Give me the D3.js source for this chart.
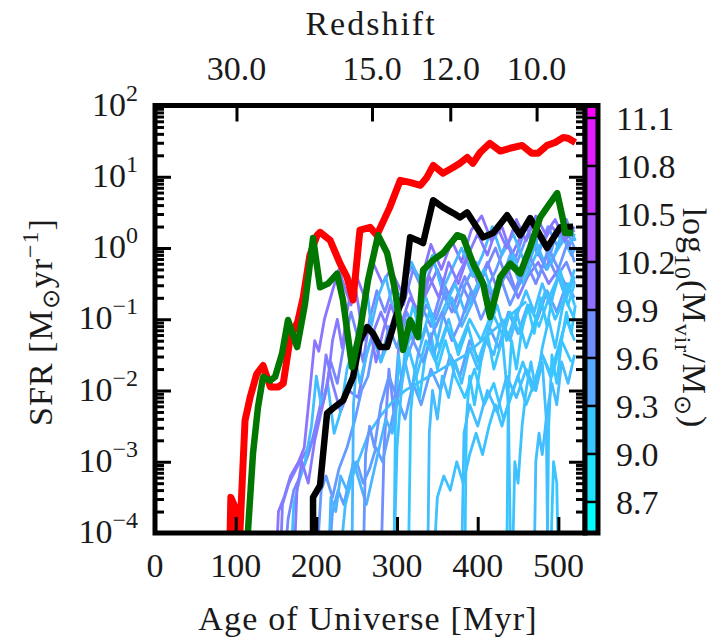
<!DOCTYPE html>
<html><head><meta charset="utf-8">
<script src="https://cdn.jsdelivr.net/npm/d3@7"></script>
<style>
body{margin:0;background:#fff}
text{font-family:"Liberation Serif","Times New Roman",serif;fill:#1a1a1a}
</style>
</head><body>
<svg id="chart" width="726" height="641"></svg>
<script>
// ---------------- data ----------------
const xTickValues = [0, 100, 200, 300, 400, 500];
const yTickExponents = [-4, -3, -2, -1, 0, 1, 2];
const redshiftLabels = ["30.0", "15.0", "12.0", "10.0"];
const redshiftAges = [101, 269, 366, 473];          // Myr at which those redshifts fall
const massBoundaries = [8.7, 9.0, 9.3, 9.6, 9.9, 10.2, 10.5, 10.8, 11.1];
const massRange = [8.506, 11.178];

// [age Myr, log10 SFR]
const redSeries = [[92,-4.6],[94,-3.5],[98.5,-3.62],[102,-4.6],[105.4,-3.96],[111.6,-2.42],[117.8,-2.1],[126,-1.77],[134,-1.65],[143,-1.95],[153,-1.95],[159,-1.9],[167.4,-1.27],[177,-1.03],[183.6,-0.7],[192,-0.1],[201,0.18],[204.6,0.22],[217,0.11],[229.4,-0.22],[238,-0.41],[245.5,-0.73],[254,0.25],[266.6,0.29],[275,0.18],[291,0.57],[304,0.95],[316,0.92],[329,0.88],[337,0.99],[345,1.16],[357,1.05],[369.5,1.13],[378,1.19],[387,1.27],[394,1.19],[403,1.34],[415,1.47],[428,1.36],[440,1.4],[455,1.44],[467,1.33],[475,1.33],[486,1.44],[496,1.48],[506,1.55],[512,1.54],[521,1.48]];
const greenSeries = [[113,-4.6],[115.3,-3.96],[121.5,-2.88],[127.7,-2.23],[133.9,-1.81],[142.6,-1.86],[148.8,-1.81],[157.5,-1.48],[164.9,-1.01],[176.1,-1.39],[186,-0.78],[195.9,0.14],[204.6,-0.55],[214.5,-0.5],[225.7,-0.36],[233,-0.73],[244.3,-1.67],[254.2,-1.15],[264.1,-0.45],[276.5,0.18],[287.7,-0.07],[297.6,-0.59],[307.5,-1.43],[316.2,-1.01],[326.1,-1.25],[332.3,-0.31],[344.7,-0.17],[357.1,-0.07],[374.5,0.18],[381.9,0.15],[394.3,-0.22],[406.7,-0.5],[415.4,-0.97],[427.8,-0.41],[440.2,-0.22],[452.6,-0.36],[465,0.01],[477.4,0.43],[486,0.57],[498.5,0.77],[505.9,0.39],[508.4,0.21],[518.3,0.21]];
const blackSeries = [[195.9,-4.6],[195.9,-3.5],[204.6,-3.33],[213.3,-2.32],[220.7,-2.25],[233.1,-2.14],[245.5,-1.81],[254.2,-1.29],[262.9,-1.11],[270.3,-1.2],[279,-1.39],[287.7,-1.39],[300,-0.92],[307.5,-0.69],[316.2,0.15],[324.9,0.11],[332.3,0.07],[344.7,0.67],[357.1,0.57],[369.5,0.49],[378.2,0.43],[386.9,0.5],[406.7,0.15],[419.1,0.21],[436.5,0.46],[452.6,0.18],[465,0.42],[473.6,0.25],[486,0.0],[502.2,0.29],[518.3,0.3]];

// log10 halo mass of each thin track
const thinMasses = [9.95, 9.85, 9.75, 9.7, 9.55, 9.5, 9.2, 9.25, 9.2, 9.15, 9.1, 9.1, 9.15, 9.1, 9.15, 9.1, 9.1, 9.3, 9.9, 9.6, 9.2, 9.2, 9.15, 9.2];
const thinSeries = [
 [[150,-4.5],[153,-3.7],[160,-3.5],[168,-3.2],[178,-3.0],[185,-2.8],[192,-2.0],[198,-1.3],[203,-1.45],[210,-1.0],[220,-0.6],[228,-0.3],[235,-0.55],[243,-0.8],[250,-0.4],[260,-0.7],[270,-0.2],[282,-0.5],[292,-0.3],[305,-0.6],[318,-0.25],[330,-0.45],[342,0.05],[355,-0.3],[368,0.1],[380,-0.2],[392,0.25],[405,0.45],[417,0.1],[430,0.3],[442,-0.1],[455,0.2],[468,0.35],[480,0.05],[492,0.3],[505,0.1],[520,0.25]],
 [[155,-4.5],[158,-3.6],[166,-3.3],[175,-3.1],[185,-2.9],[195,-2.7],[205,-2.2],[212,-1.5],[220,-1.9],[230,-2.3],[240,-2.0],[252,-2.1],[262,-1.5],[270,-1.2],[280,-0.9],[290,-1.2],[300,-0.8],[312,-0.5],[325,-0.9],[338,-0.6],[350,-0.3],[362,-0.7],[375,-0.4],[388,-0.1],[400,-0.5],[412,-0.2],[425,-0.6],[438,-0.3],[450,-0.7],[462,-0.4],[475,-0.2],[488,-0.5],[500,-0.3],[512,-0.6],[520,-0.4]],
 [[160,-4.5],[165,-3.8],[172,-3.4],[180,-3.2],[190,-2.9],[200,-2.5],[210,-2.1],[218,-1.6],[226,-1.9],[235,-1.3],[243,-0.9],[250,-1.2],[258,-1.6],[266,-1.0],[275,-0.6],[285,-0.9],[296,-0.5],[308,-0.8],[320,-0.3],[332,-0.6],[345,-0.2],[358,-0.5],[370,-0.8],[384,-0.4],[396,-0.7],[410,-0.3],[422,0.0],[435,-0.4],[448,-0.1],[460,0.3],[472,0.0],[485,-0.3],[497,0.2],[510,0.4],[520,0.1]],
 [[280,-4.5],[284,-2.8],[290,-1.7],[296,-2.3],[302,-1.4],[310,-1.0],[320,-1.3],[330,-0.8],[342,-1.1],[355,-0.6],[368,-0.9],[380,-0.5],[392,-0.8],[405,-0.4],[418,-0.7],[432,-0.3],[446,-0.6],[460,-0.2],[472,-0.5],[486,-0.1],[498,-0.4],[510,-0.2],[520,-0.5]],
 [[200,-4.5],[206,-3.4],[212,-3.2],[220,-3.5],[228,-3.1],[238,-2.8],[248,-2.4],[256,-2.0],[264,-1.8],[272,-1.3],[280,-1.6],[290,-1.1],[300,-1.4],[312,-0.9],[324,-1.2],[336,-0.8],[348,-1.0],[360,-0.6],[372,-0.9],[385,-0.5],[398,-0.2],[410,-0.6],[423,-0.3],[436,0.1],[449,-0.2],[462,0.2],[475,-0.1],[487,0.3],[500,0.0],[512,0.2],[520,0.0]],
 [[215,-4.5],[220,-3.7],[227,-3.4],[234,-3.6],[242,-3.2],[250,-3.0],[258,-3.3],[266,-3.1],[274,-2.8],[282,-3.0],[290,-2.6],[300,-2.1],[310,-2.4],[320,-1.9],[330,-2.2],[342,-1.7],[354,-2.0],[366,-1.5],[378,-1.8],[390,-1.3],[402,-1.6],[414,-1.1],[426,-1.4],[438,-0.9],[450,-1.2],[462,-0.8],[474,-1.0],[486,-0.6],[498,-0.9],[510,-0.5],[520,-0.7]],
 [[168,-4.5],[172,-3.6],[178,-3.3],[186,-3.0],[194,-2.5],[200,-1.8],[206,-2.2],[214,-1.9],[222,-2.6],[230,-2.3],[238,-1.7],[246,-1.4],[254,-1.9],[262,-1.5],[270,-1.2],[280,-1.6],[290,-1.3],[300,-1.0],[312,-1.4],[324,-1.0],[336,-0.7],[348,-1.1],[360,-0.8],[372,-0.5],[384,-0.9],[396,-0.6],[408,-0.3],[420,-0.7],[432,-0.4],[444,-0.1],[456,-0.5],[468,-0.2],[480,0.1],[492,-0.2],[504,0.2],[516,-0.1],[521,0.0]],
 [[244,-4.5],[246,-2.2],[250,-1.6],[256,-0.9],[262,-0.5],[268,-1.1],[276,-0.7],[286,-0.4],[296,-0.9],[306,-0.6],[318,-0.2],[330,-0.5],[344,-0.1],[356,-0.6],[368,-0.3],[380,0.0],[394,-0.4],[406,-0.1],[418,0.3],[430,-0.1],[444,0.2],[458,-0.2],[472,0.1],[486,-0.3],[500,0.0],[514,0.3],[521,0.1]],
 [[228,-4.5],[236,-3.6],[245,-3.2],[255,-2.9],[265,-2.6],[280,-2.35],[295,-2.15],[310,-2.0],[325,-1.9],[340,-1.8],[355,-1.7],[370,-1.6],[385,-1.5],[400,-1.35],[415,-1.2],[430,-1.05],[445,-0.9],[460,-0.75]],
 [[296,-4.5],[298,-2.5],[302,-1.5],[306,-1.9],[312,-1.2],[320,-0.8],[330,-1.3],[340,-0.9],[352,-1.4],[364,-1.0],[376,-1.5],[388,-1.1],[400,-1.6],[412,-1.2],[424,-0.8],[436,-1.3],[448,-0.9],[460,-1.4],[472,-1.0],[484,-0.6],[496,-1.0],[508,-0.7],[520,-1.0]],
 [[314,-4.5],[317,-2.3],[322,-1.7],[328,-2.1],[334,-1.6],[342,-1.2],[350,-1.7],[360,-1.3],[372,-1.8],[384,-2.1],[396,-1.7],[408,-2.2],[420,-1.9],[432,-2.4],[444,-2.0],[456,-1.6],[468,-2.0],[480,-1.5],[492,-1.8],[504,-1.3],[516,-1.6]],
 [[384,-4.5],[386,-2.4],[390,-1.8],[396,-2.2],[404,-1.6],[412,-1.2],[420,-1.7],[430,-1.3],[440,-0.9],[452,-1.2],[464,-0.8],[476,-1.1],[488,-0.7],[500,-0.4],[512,-0.8],[520,-0.5]],
 [[345,-4.5],[350,-3.5],[358,-3.2],[366,-3.4],[374,-3.0],[382,-3.3],[390,-2.9],[398,-2.6],[406,-2.9],[414,-2.5],[422,-2.2],[430,-2.5],[440,-2.1],[450,-1.8],[460,-2.2],[470,-1.9],[480,-1.5],[490,-1.8],[500,-1.4],[510,-1.0],[520,-1.3]],
 [[436,-4.5],[438,-2.0],[442,-1.3],[448,-1.7],[454,-1.2],[462,-0.8],[470,-1.2],[478,-0.7],[486,-1.1],[494,-0.6],[502,-0.3],[510,-0.7],[520,-0.4]],
 [[443,-4.5],[446,-3.0],[450,-3.3],[455,-2.5],[460,-2.0],[466,-1.6],[472,-2.0],[480,-1.4],[488,-1.0],[496,-1.4],[504,-0.9],[512,-0.5],[520,-0.8]],
 [[486,-4.5],[488,-2.5],[492,-1.5],[498,-1.9],[504,-1.3],[510,-0.9],[516,-1.2],[521,-0.8]],
 [[490,-4.5],[494,-3.0],[498,-3.3],[500,-4.5]],
 [[215,-4.5],[218,-3.5],[224,-3.7],[230,-3.2],[238,-3.4],[246,-3.0],[254,-3.3],[262,-3.6],[270,-3.2],[278,-2.8],[286,-2.4],[294,-2.6],[302,-2.0],[310,-1.6],[318,-2.0],[326,-1.5],[336,-1.1],[346,-1.5],[356,-1.0],[368,-0.7],[380,-1.1],[392,-0.8],[404,-0.4],[416,-0.8],[428,-0.5],[440,-0.1],[452,-0.5],[464,-0.2],[476,0.2],[488,-0.1],[500,0.3],[512,0.0],[520,0.2]],
 [[172,-4.5],[176,-3.4],[182,-3.0],[190,-3.3],[198,-2.7],[206,-2.3],[214,-1.9],[220,-1.3],[226,-1.0],[232,-1.4],[238,-0.9],[246,-0.4],[252,-0.8],[258,-1.3],[266,-1.1],[274,-1.6],[282,-1.2],[292,-0.8],[304,-1.1],[316,-0.7],[328,-0.9],[340,-0.4],[352,-0.7],[364,-0.2],[376,-0.5],[388,-0.1],[400,0.2],[412,-0.1],[424,0.3],[436,0.0],[448,0.4],[460,0.1],[472,0.45],[484,0.2],[496,0.4],[508,0.1],[520,0.3]],
 [[258,-4.5],[261,-2.9],[266,-2.5],[272,-2.8],[280,-2.2],[290,-1.8],[300,-2.1],[310,-1.6],[320,-1.3],[332,-1.6],[344,-1.2],[356,-0.9],[368,-1.3],[380,-1.0],[392,-0.6],[404,-1.0],[416,-0.7],[428,-0.4],[440,-0.8],[452,-0.5],[464,-0.1],[476,-0.4],[488,0.0],[500,-0.3],[512,0.1],[520,-0.2]],
 [[338,-4.5],[340,-2.6],[344,-2.0],[350,-2.4],[356,-1.8],[364,-2.1],[372,-1.6],[380,-1.9],[390,-1.4],[400,-1.7],[410,-1.3],[420,-1.5],[430,-1.0],[440,-1.3],[450,-0.9],[460,-0.6],[470,-0.9],[480,-0.5],[490,-0.8],[500,-0.4],[510,-0.7],[520,-0.3]],
 [[470,-4.5],[472,-3.0],[476,-2.6],[480,-2.9],[486,-2.3],[492,-1.9],[498,-2.2],[504,-1.6],[512,-1.9],[520,-1.5]],
 [[296,-4.5],[300,-2.8],[306,-1.9],[314,-1.4],[324,-1.8],[336,-1.3],[348,-1.6],[362,-1.1],[376,-1.4],[390,-1.0],[404,-1.3],[418,-0.9],[430,-1.2],[438,-2.2],[441,-4.5]],
 [[380,-4.5],[383,-2.6],[390,-2.2],[400,-2.5],[412,-2.0],[424,-2.3],[436,-1.8],[448,-2.1],[460,-1.7],[472,-2.0],[480,-1.6],[485,-2.4],[487,-4.5]]
];

// ---------------- drawing ----------------
const svg = d3.select("#chart");
const L = 155, R = 585, T = 105.5, B = 533;
const x = d3.scaleLinear().domain([0, 533]).range([L, R]);
const y = d3.scaleLog().domain([1e-4, 1e2]).range([B, T]);
const cb = d3.scaleLinear().domain(massRange).range([B, T]);
const cool = d3.interpolateRgb("#00ffff", "#ff00ff");
const massColor = m => cool((m - massRange[0]) / (massRange[1] - massRange[0]));

svg.append("defs").append("clipPath").attr("id", "clip")
  .append("rect").attr("x", L).attr("y", T).attr("width", R - L).attr("height", B - T);

const line = d3.line().x(d => x(d[0])).y(d => y(Math.pow(10, d[1])));
const plot = svg.append("g").attr("clip-path", "url(#clip)");

thinSeries.forEach((s, i) => {
  plot.append("path").attr("d", line(s)).attr("fill", "none")
    .attr("stroke", massColor(thinMasses[i])).attr("stroke-width", 2.8)
    .attr("stroke-linejoin", "round");
});
[[redSeries, "#ff0000", 7], [blackSeries, "#000000", 6.5], [greenSeries, "#007700", 6.5]].forEach(([s, c, w]) => {
  plot.append("path").attr("d", line(s)).attr("fill", "none")
    .attr("stroke", c).attr("stroke-width", w).attr("stroke-linejoin", "round");
});

// ticks
const majors = yTickExponents.map(e => Math.pow(10, e));
const minors = [];
for (let e = -4; e < 2; e++) for (let k = 2; k <= 9; k++) minors.push(k * Math.pow(10, e));
function styleAxis(g) {
  g.select(".domain").remove();
  g.selectAll("line").attr("stroke", "#000").attr("stroke-width", 3);
  g.selectAll("text").remove();
}
svg.append("g").attr("transform", `translate(${L},0)`).call(d3.axisLeft(y).tickValues(majors).tickSize(-16)).call(styleAxis);
svg.append("g").attr("transform", `translate(${L},0)`).call(d3.axisLeft(y).tickValues(minors).tickSize(-9)).call(styleAxis);
svg.append("g").attr("transform", `translate(${R},0)`).call(d3.axisRight(y).tickValues(majors).tickSize(-16)).call(styleAxis);
svg.append("g").attr("transform", `translate(${R},0)`).call(d3.axisRight(y).tickValues(minors).tickSize(-9)).call(styleAxis);
svg.append("g").attr("transform", `translate(0,${B})`).call(d3.axisBottom(x).tickValues(xTickValues.slice(1)).tickSize(-16)).call(styleAxis);
svg.append("g").attr("transform", `translate(0,${T})`).call(d3.axisTop(x).tickValues(redshiftAges).tickSize(-16)).call(styleAxis);

// frame
svg.append("rect").attr("x", L).attr("y", T).attr("width", R - L).attr("height", B - T)
  .attr("fill", "none").attr("stroke", "#000").attr("stroke-width", 5);

// colorbar
const cbL = 585, cbR = 598;
const edges = [massRange[0], ...massBoundaries, massRange[1]];
for (let i = 0; i < edges.length - 1; i++) {
  svg.append("rect").attr("x", cbL).attr("width", cbR - cbL)
    .attr("y", cb(edges[i + 1])).attr("height", cb(edges[i]) - cb(edges[i + 1]))
    .attr("fill", cool(i / (edges.length - 2)));
}
massBoundaries.forEach(m => {
  svg.append("line").attr("x1", cbL).attr("x2", cbR).attr("y1", cb(m)).attr("y2", cb(m))
    .attr("stroke", "#000").attr("stroke-width", 2.5);
});
svg.append("rect").attr("x", cbL).attr("y", T).attr("width", cbR - cbL).attr("height", B - T)
  .attr("fill", "none").attr("stroke", "#000").attr("stroke-width", 5);

// text
const FS = 34, SS = 24;
massBoundaries.forEach(m => {
  svg.append("text").attr("x", 616).attr("y", cb(m) + 12).attr("font-size", FS).text(m.toFixed(1));
});
xTickValues.forEach(v => {
  svg.append("text").attr("x", x(v)).attr("y", 577).attr("text-anchor", "middle").attr("font-size", FS).text(v);
});
redshiftLabels.forEach((lab, i) => {
  svg.append("text").attr("x", x(redshiftAges[i])).attr("y", 80).attr("text-anchor", "middle").attr("font-size", FS).text(lab);
});
yTickExponents.forEach(e => {
  const t = svg.append("text").attr("x", 138).attr("y", y(Math.pow(10, e)) + 10).attr("text-anchor", "end").attr("font-size", FS);
  t.append("tspan").text("10");
  t.append("tspan").attr("dy", -15).attr("font-size", SS).text(e < 0 ? "\u2212" + (-e) : String(e));
});
svg.append("text").attr("x", 368).attr("y", 630).attr("text-anchor", "middle").attr("font-size", FS)
  .attr("letter-spacing", 1.2).text("Age of Universe [Myr]");
svg.append("text").attr("x", 371).attr("y", 35).attr("text-anchor", "middle").attr("font-size", FS)
  .attr("letter-spacing", 2).text("Redshift");

// left title
const lt = svg.append("text").attr("transform", "translate(52,322) rotate(-90)").attr("text-anchor", "middle").attr("font-size", FS).attr("letter-spacing", 1);
lt.append("tspan").text("SFR [M");
lt.append("tspan").attr("dy", 7).attr("font-size", SS).text("\u2299");
lt.append("tspan").attr("dy", -7).text("yr");
lt.append("tspan").attr("dy", -14).attr("font-size", SS).text("\u22121");
lt.append("tspan").attr("dy", 14).text("]");

// right title
const rt = svg.append("text").attr("transform", "translate(683,318) rotate(90)").attr("text-anchor", "middle").attr("font-size", FS).attr("letter-spacing", 1);
rt.append("tspan").text("log");
rt.append("tspan").attr("dy", 8).attr("font-size", SS).text("10");
rt.append("tspan").attr("dy", -8).text("(M");
rt.append("tspan").attr("dy", 8).attr("font-size", SS).text("vir");
rt.append("tspan").attr("dy", -8).text("/M");
rt.append("tspan").attr("dy", 8).attr("font-size", SS).text("\u2299");
rt.append("tspan").attr("dy", -8).text(")");
</script>
</body></html>
